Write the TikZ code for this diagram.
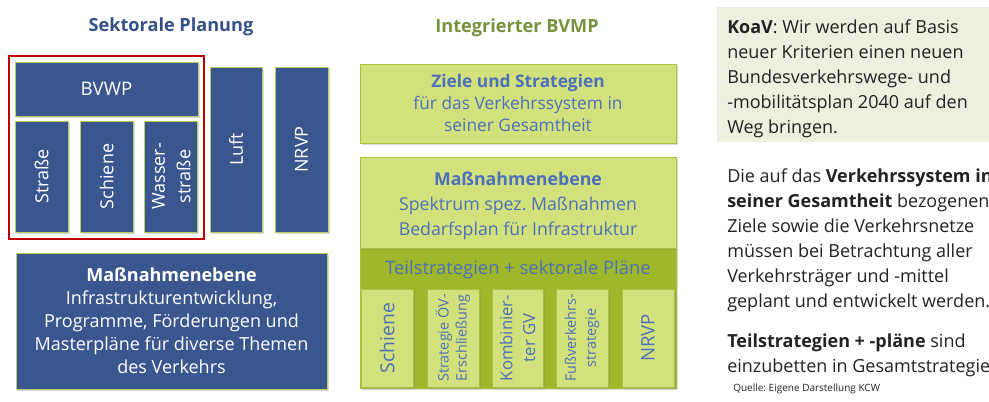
\documentclass[tikz,border=0pt]{standalone}
\usepackage{fontspec}
\setmainfont{Open Sans}
\usetikzlibrary{shadows}
\frenchspacing

\definecolor{navyfill}{HTML}{3A568F}
\definecolor{limeline}{HTML}{B8CC60}
\definecolor{frame}{HTML}{C00000}
\definecolor{palegreen}{HTML}{D3E17D}
\definecolor{olivegreen}{HTML}{9FB72A}
\definecolor{greenline}{HTML}{A9C040}
\definecolor{textblue}{HTML}{4D70BC}
\definecolor{titleblue}{HTML}{34508A}
\definecolor{titlegreen}{HTML}{76923C}
\definecolor{notefill}{HTML}{EBF1DE}
\definecolor{bodytext}{HTML}{222222}

\newcommand{\fsz}[2]{\fontsize{#1}{#2}\selectfont}

\tikzset{
  softshadow/.style={drop shadow={opacity=0.3, shadow xshift=1.2pt, shadow yshift=-1.2pt}},
  bluebox/.style={draw=limeline, line width=0.6pt, fill=navyfill, text=white,
    inner sep=0pt, align=center, softshadow},
  greenbox/.style={draw=greenline, line width=0.6pt, fill=palegreen, text=textblue,
    inner sep=0pt, align=center, softshadow},
  olivebox/.style={draw=greenline, line width=0.6pt, fill=olivegreen,
    inner sep=0pt, softshadow},
  vlabel/.style={rotate=90, align=center, inner sep=0pt},
  heading/.style={font=\fsz{13.6}{16}\bfseries, inner sep=0pt},
  note/.style={anchor=north west, align=left, inner sep=0pt, text=bodytext,
    font=\fsz{13.5}{18.75}}
}

\begin{document}
\begin{tikzpicture}[x=0.75pt, y=-0.75pt]
  \useasboundingbox (0,0) rectangle (989,402);
  \clip (0,0) rectangle (989,402);

  % ---------- left column: sector planning ----------
  \node[heading, text=titleblue] (titleL) at (171,27) {Sektorale Planung};

  \node[draw=frame, line width=1.5pt, minimum width=145.9pt, minimum height=136.9pt,
        inner sep=0pt] (bvwpframe) at (106.75,147.75) {};

  \node[bluebox, minimum width=137.25pt, minimum height=40.5pt, font=\fsz{14}{16}]
        (bvwp) at (106.5,89) {BVWP};

  \node[bluebox, minimum width=39.75pt, minimum height=83.25pt] (strasse) at (41.5,176.5) {};
  \node[bluebox, minimum width=39.75pt, minimum height=83.25pt] (schieneL) at (106.5,176.5) {};
  \node[bluebox, minimum width=39.75pt, minimum height=83.25pt] (wasser) at (171.25,176.5) {};
  \node[bluebox, minimum width=39pt, minimum height=123.75pt] (luft) at (236,149.5) {};
  \node[bluebox, minimum width=39.75pt, minimum height=123.75pt] (nrvpL) at (301.5,149.5) {};

  \node[vlabel, text=white, font=\fsz{13.5}{15}] (strasseT) at (strasse.center) {Straße};
  \node[vlabel, text=white, font=\fsz{13.5}{15}] (schieneLT) at (schieneL.center) {Schiene};
  \node[vlabel, text=white, font=\fsz{13.5}{19}] (wasserT) at (wasser.center) {Wasser-\\straße};
  \node[vlabel, text=white, font=\fsz{13.5}{15}] (luftT) at (luft.center) {Luft};
  \node[vlabel, text=white, font=\fsz{13.5}{15}] (nrvpLT) at (nrvpL.center) {NRVP};

  \node[bluebox, minimum width=233.25pt, minimum height=102pt, font=\fsz{13.5}{17.25}]
        (massL) at (171.5,321)
        {\textbf{Maßnahmenebene}\\Infrastrukturentwicklung,\\Programme, Förderungen und\\
         Masterpläne für diverse Themen\\des Verkehrs};

  % ---------- middle column: integrated plan ----------
  \node[heading, text=titlegreen] (titleM) at (517,28) {Integrierter BVMP};

  \node[greenbox, minimum width=237pt, minimum height=59.25pt, font=\fsz{13}{16.5}]
        (ziele) at (518,103.5)
        {\textbf{Ziele und Strategien}\\für das Verkehrssystem in\\seiner Gesamtheit};

  \node[olivebox, minimum width=237pt, minimum height=105pt] (teil) at (518,318) {};
  \node[greenbox, minimum width=237pt, minimum height=68.25pt, font=\fsz{13.3}{18.75}]
        (massM) at (518,202.5)
        {\rule{0pt}{15pt}\textbf{Maßnahmenebene}\\Spektrum spez. Maßnahmen\\Bedarfsplan für Infrastruktur};
  \node[text=textblue, font=\fsz{13.8}{15}, inner sep=0pt] (teilT) at (518,270)
        {Teilstrategien + sektorale Pläne};

  \node[greenbox, minimum width=39pt, minimum height=73.5pt] (schieneM) at (387,338) {};
  \node[greenbox, minimum width=39pt, minimum height=73.5pt] (oev) at (453,338) {};
  \node[greenbox, minimum width=38.25pt, minimum height=73.5pt] (kombi) at (517.5,338) {};
  \node[greenbox, minimum width=39pt, minimum height=73.5pt] (fuss) at (582,338) {};
  \node[greenbox, minimum width=39pt, minimum height=73.5pt] (nrvpM) at (648,338) {};

  \node[vlabel, text=textblue, font=\fsz{14.5}{16}] (schieneMT) at (schieneM.center) {Schiene};
  \node[vlabel, text=textblue, font=\fsz{10.8}{13.5}] (oevT) at (oev.center) {Strategie ÖV-\\Erschließung};
  \node[vlabel, text=textblue, font=\fsz{12.5}{17}] (kombiT) at (kombi.center) {Kombinier-\\ter GV};
  \node[vlabel, text=textblue, font=\fsz{10.8}{15}] (fussT) at (fuss.center) {Fußverkehrs-\\strategie};
  \node[vlabel, text=textblue, font=\fsz{14}{16}] (nrvpMT) at (nrvpM.center) {NRVP};

  % ---------- right column: notes ----------
  \node[fill=notefill, minimum width=220pt, minimum height=101.25pt, inner sep=0pt,
        anchor=north west] (koavbox) at (717,7) {};
  \node[note] (koav) at (727,19)
        {\textbf{KoaV}: Wir werden auf Basis\\neuer Kriterien einen neuen\\
         Bundesverkehrswege- und\\-mobilitätsplan 2040 auf den\\Weg bringen.};
  \node[note] (system) at (727,168)
        {Die auf das \textbf{Verkehrssystem in}\\\textbf{seiner Gesamtheit} bezogenen\\
         Ziele sowie die Verkehrsnetze\\müssen bei Betrachtung aller\\
         Verkehrsträger und -mittel\\geplant und entwickelt werden.};
  \node[note] (teilnote) at (727,334)
        {\textbf{Teilstrategien + -pläne} sind\\einzubetten in Gesamtstrategie};
  \node[anchor=north west, inner sep=0pt, text=bodytext, font=\fsz{7.5}{9}]
        (quelle) at (733,384) {Quelle: Eigene Darstellung KCW};
\end{tikzpicture}
\end{document}
